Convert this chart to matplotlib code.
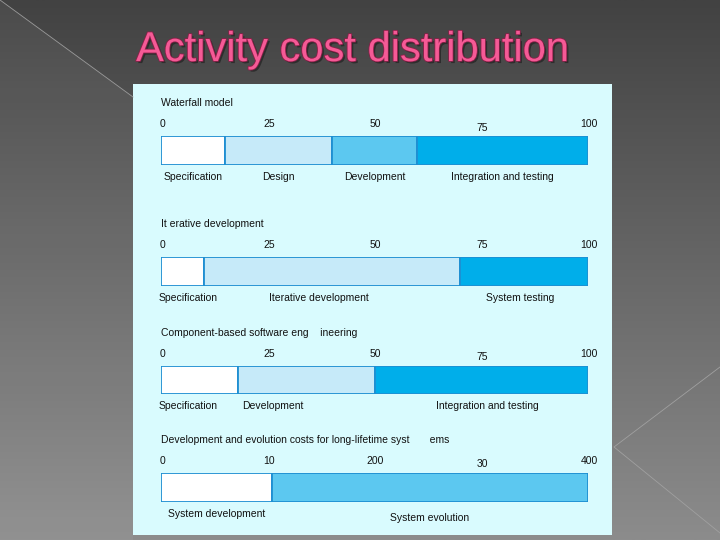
import numpy as np
import matplotlib
matplotlib.use('Agg')
import matplotlib.pyplot as plt
import matplotlib.patheffects as pe
from matplotlib.patches import Rectangle, Polygon

plt.rcParams['font.family'] = ['Liberation Sans', 'DejaVu Sans']

# data
slide_title = 'Activity cost distribution'

waterfall_title = 'Waterfall model'
waterfall_phases = ['Specification', 'Design', 'Development', 'Integration and testing']
waterfall_costs = [15, 25, 20, 40]

iterative_title = 'It erative development'
iterative_phases = ['Specification', 'Iterative development', 'System testing']
iterative_costs = [10, 60, 30]

cbse_title = 'Component-based software eng    ineering'
cbse_phases = ['Specification', 'Development', 'Integration and testing']
cbse_costs = [18, 32, 50]

evolution_title = 'Development and evolution costs for long-lifetime syst       ems'
evolution_phases = ['System development', 'System evolution']
evolution_costs = [26, 74]

tick_values = [0, 25, 50, 75, 100]
percent_ticks = ['0', '25', '50', '75', '100']
evolution_ticks = ['0', '10', '200', '30', '400']

# colours
WHITE = '#ffffff'
LIGHT = '#c6eaf9'
MID = '#5cc8f0'
BRIGHT = '#00aeea'
EDGE = '#1e8fd2'
PANEL = '#d9fbfe'

W, H = 720, 540
fig = plt.figure(figsize=(7.2, 5.4), dpi=100)

# background
bg = fig.add_axes([0, 0, 1, 1])
bg.set_xlim(0, W)
bg.set_ylim(H, 0)
bg.axis('off')
grad = np.linspace(0, 1, 256).reshape(-1, 1)
bg.imshow(grad, cmap=matplotlib.colors.LinearSegmentedColormap.from_list(
    'g', ['#424242', '#8c8c8c']), extent=[0, W, H, 0], aspect='auto')
bg.add_patch(Polygon([(0, 0), (133, 97), (133, H), (0, H)], closed=True,
                     facecolor='white', alpha=0.05, lw=0))
bg.plot([0, 133], [0, 97], color='#9a9a9a', lw=0.6)
bg.plot([720, 614, 720], [367, 447, 533], color='#a0a0a0', lw=0.6)
bg.add_patch(Rectangle((133, 84), 479, 451, facecolor=PANEL, lw=0))

bg.text(136, 50, slide_title, fontsize=30, color='#f55a96', va='center', ha='left',
        path_effects=[pe.SimplePatchShadow(offset=(1.5, -1.5), shadow_rgbFace='#2a2a2a', alpha=0.9),
                      pe.withStroke(linewidth=1.2, foreground='#8a2048')])


def draw_bar(top, bottom, title, phases, costs, colors, ticks,
             tick_dy=None, label_dx=None, label_dy=None):
    x0, x1 = 161, 588
    ax = fig.add_axes([x0 / W, 1 - bottom / H, (x1 - x0) / W, (bottom - top) / H])
    left = np.concatenate([[0], np.cumsum(costs)[:-1]])
    ax.barh(0, costs, left=left, height=1, color=colors, edgecolor=EDGE, linewidth=1.3)
    ax.set_xlim(0, 100)
    ax.set_ylim(-0.5, 0.5)
    ax.axis('off')
    kw = dict(xycoords=('data', 'axes fraction'), textcoords='offset pixels',
              fontsize=7.5, color='#111111', annotation_clip=False)
    ax.annotate(title, (0, 1), xytext=(0, 33), ha='left', va='center', **kw)
    for i, (v, t) in enumerate(zip(tick_values, ticks)):
        dy = tick_dy[i] if tick_dy else 0
        ax.annotate(t, (v, 1), xytext=(1, 12 - dy), ha='center', va='center', **kw)
    for i, (p, l, c) in enumerate(zip(phases, left, costs)):
        dx = label_dx[i] if label_dx else 0
        dy = label_dy[i] if label_dy else 0
        ax.annotate(p, (l + c / 2, 0), xytext=(dx, -12 - dy), ha='center', va='center', **kw)
    return ax


draw_bar(136, 165, waterfall_title, waterfall_phases, waterfall_costs,
         [WHITE, LIGHT, MID, BRIGHT], percent_ticks, tick_dy=[0, 0, 0, 4, 0])
draw_bar(257, 286, iterative_title, iterative_phases, iterative_costs,
         [WHITE, LIGHT, BRIGHT], percent_ticks, label_dx=[6, -13, -4])
draw_bar(366, 394, cbse_title, cbse_phases, cbse_costs,
         [WHITE, LIGHT, BRIGHT], percent_ticks, tick_dy=[0, 0, 0, 3, 0],
         label_dx=[-11, -33, 6])
draw_bar(473, 502, evolution_title, evolution_phases, evolution_costs,
         [WHITE, MID], evolution_ticks, tick_dy=[0, 0, 0, 3, 0], label_dy=[0, 4])

fig.savefig('out.png', dpi=100)
